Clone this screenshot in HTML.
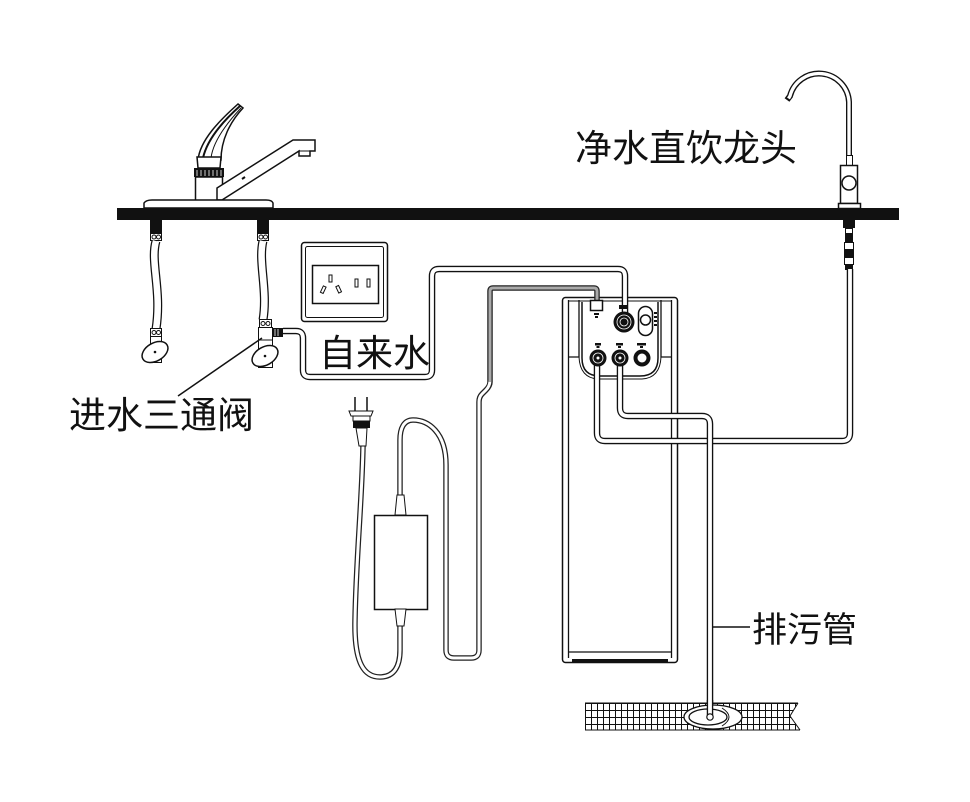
<!DOCTYPE html>
<html><head><meta charset="utf-8">
<style>
html,body{margin:0;padding:0;background:#fff;}
svg{display:block;}
text{font-family:"Liberation Sans","Noto Sans CJK SC",sans-serif;fill:#111;}
.o{fill:none;stroke:#111;stroke-width:1.5;}
.tb{fill:none;stroke:#111;stroke-width:6.5;}
.tw{fill:none;stroke:#fff;stroke-width:3.8;}
.cb{fill:none;stroke:#222;stroke-width:5.5;}
.cw{fill:none;stroke:#fff;stroke-width:3;}
.cg{fill:none;stroke:#aaa;stroke-width:3;}
</style></head><body>
<svg width="970" height="802" viewBox="0 0 970 802" xmlns="http://www.w3.org/2000/svg">
<defs>
<pattern id="brick" width="6" height="7" patternUnits="userSpaceOnUse" x="585" y="703">
<path d="M0 0.5H6M0.5 0V7" stroke="#111" stroke-width="1" fill="none"/>
</pattern>
</defs>
<rect width="970" height="802" fill="#fff"/>

<!-- Left faucet -->
<path d="M198 160 C200 140 220 120 238 104 L243 108 C230 122 221 140 221 160 Z" fill="#fff" stroke="#111" stroke-width="1.5"/>
<path d="M203 158 C207 140 222 122 240 106" fill="none" stroke="#111" stroke-width="2"/>
<path d="M211 158 C213 142 226 124 241 108" fill="none" stroke="#111" stroke-width="1"/>
<path d="M197 157 H221 L220 168 H198 Z" fill="#fff" stroke="#111" stroke-width="1.5"/>
<rect x="194" y="168" width="30" height="9" fill="#111"/>
<path d="M197 170 V176 M201 170 V176 M205 170 V176 M209 170 V176 M213 170 V176 M217 170 V176 M221 170 V176" stroke="#fff" stroke-width="0.8"/>
<rect x="195.5" y="177" width="27" height="24" fill="#fff" stroke="#111" stroke-width="1.5"/>
<path d="M217 188 L293 140 H315 V151 H310 V156 H299 V151 L222 200 H217 Z" fill="#fff" stroke="#111" stroke-width="1.5"/>
<path d="M298 151 H310" stroke="#111" stroke-width="1"/>
<path d="M242 179 L245 177" stroke="#111" stroke-width="2"/>
<path d="M144 208 V203 Q146 200 152 200 H266 Q272 200 273 203 V208 Z" fill="#fff" stroke="#111" stroke-width="1.5"/>

<!-- Counter -->
<rect x="117" y="208" width="782" height="12" fill="#111"/>

<!-- Left hose -->
<rect x="150" y="220" width="12" height="13" fill="#111"/>
<rect x="150.5" y="233.5" width="11" height="7" fill="#fff" stroke="#111"/>
<circle cx="154" cy="237" r="2" fill="none" stroke="#111"/><circle cx="158.5" cy="237" r="2" fill="none" stroke="#111"/>
<path d="M156 241 C150 262 162 290 156 329" fill="none" stroke="#111" stroke-width="9"/>
<path d="M156 241 C150 262 162 290 156 329" fill="none" stroke="#fff" stroke-width="6.5"/>
<rect x="150.5" y="328.5" width="11" height="8" fill="#fff" stroke="#111"/>
<circle cx="154" cy="332.5" r="2" fill="none" stroke="#111"/><circle cx="158.5" cy="332.5" r="2" fill="none" stroke="#111"/>
<rect x="150.5" y="336.5" width="11" height="26" fill="#fff" stroke="#111"/>
<ellipse cx="155" cy="352" rx="14" ry="9" transform="rotate(-30 155 352)" fill="#fff" stroke="#111" stroke-width="1.5"/>
<circle cx="155" cy="352" r="1.3" fill="#111"/>

<!-- Right hose / tee -->
<rect x="257" y="220" width="12" height="13" fill="#111"/>
<rect x="257.5" y="233.5" width="11" height="7" fill="#fff" stroke="#111"/>
<circle cx="261" cy="237" r="2" fill="none" stroke="#111"/><circle cx="265.5" cy="237" r="2" fill="none" stroke="#111"/>
<path d="M263 241 C258 262 268 290 263 320" fill="none" stroke="#111" stroke-width="9"/>
<path d="M263 241 C258 262 268 290 263 320" fill="none" stroke="#fff" stroke-width="6.5"/>
<rect x="259.5" y="319.5" width="12" height="8" fill="#fff" stroke="#111"/>
<circle cx="263" cy="323.5" r="2" fill="none" stroke="#111"/><circle cx="268" cy="323.5" r="2" fill="none" stroke="#111"/>
<rect x="258.5" y="327.5" width="14" height="40" fill="#fff" stroke="#111"/>
<path d="M258.5 340 H272.5" stroke="#111"/>
<rect x="272" y="328" width="11" height="9" fill="#111"/>
<path d="M275 329 V336 M278 329 V336" stroke="#fff" stroke-width="0.8"/>
<ellipse cx="265" cy="356" rx="14" ry="9" transform="rotate(-30 265 356)" fill="#fff" stroke="#111" stroke-width="1.5"/>
<circle cx="265" cy="356" r="1.3" fill="#111"/>

<!-- leader line -->
<path d="M178 396 L262 338" stroke="#111" stroke-width="1.5"/>

<!-- Outlet -->
<rect x="301.5" y="242.5" width="86" height="79" rx="3" fill="#fff" class="o"/>
<rect x="305.5" y="246.5" width="78" height="71" rx="2" fill="none" stroke="#111" stroke-width="1"/>
<rect x="312.5" y="265.5" width="66" height="38" fill="none" stroke="#111" stroke-width="1.5"/>
<rect x="329" y="275" width="3" height="7" fill="none" stroke="#111"/>
<rect x="322" y="286" width="3" height="7" transform="rotate(25 323 289)" fill="none" stroke="#111"/>
<rect x="337" y="286" width="3" height="7" transform="rotate(-25 338 289)" fill="none" stroke="#111"/>
<rect x="355" y="279" width="3" height="8" fill="none" stroke="#111"/>
<rect x="367" y="279" width="3" height="8" fill="none" stroke="#111"/>

<!-- Right faucet -->
<path d="M849 160 V102 A30 30 0 0 0 790 96 L787 100" fill="none" stroke="#111" stroke-width="6"/>
<path d="M849 160 V102 A30 30 0 0 0 790 96 L788.5 98.5" fill="none" stroke="#fff" stroke-width="3.3"/>
<rect x="846.5" y="155.5" width="6" height="10" fill="#fff" stroke="#111"/>
<rect x="840.5" y="165.5" width="17" height="38" fill="#fff" stroke="#111" stroke-width="1.5"/>
<circle cx="849" cy="183" r="7" fill="#fff" stroke="#111" stroke-width="1.5"/>
<rect x="838.5" y="203.5" width="22" height="5" fill="#fff" stroke="#111" stroke-width="1.5"/>
<rect x="843" y="220" width="12" height="8" fill="#111"/>
<rect x="845.5" y="228.5" width="7" height="5" fill="#fff" stroke="#111"/>
<rect x="845" y="234" width="8" height="8" fill="#111"/>
<rect x="844.5" y="242.5" width="9" height="7" fill="#fff" stroke="#111"/>
<rect x="844" y="250" width="10" height="7" fill="#111"/>
<rect x="844.5" y="257.5" width="9" height="7" fill="#fff" stroke="#111"/>
<rect x="845" y="264" width="8" height="6" fill="#111"/>

<!-- Device body -->
<rect x="562.5" y="297.5" width="115" height="365" rx="3" fill="#fff" stroke="#111" stroke-width="1.5"/>
<path d="M568.5 300 V658 M671.5 300 V658" stroke="#111" stroke-width="1.3"/>
<path d="M579 300 V357 H569 M661 300 V357 H671" fill="none" stroke="#111" stroke-width="1.3"/>
<path d="M582 302 V358 Q582 376 600 376 H640 Q658 376 658 358 V302" fill="none" stroke="#111" stroke-width="1.5"/>
<path d="M579 357 Q580 378 598 379 H642 Q660 378 661 357" fill="none" stroke="#111" stroke-width="1"/>
<path d="M568 301 H672" stroke="#111" stroke-width="1"/>
<path d="M569 652 H671" stroke="#111" stroke-width="1.3"/>
<rect x="572" y="659" width="96" height="3.5" fill="#111"/>

<!-- Water tubes -->
<path class="tb" d="M283 331 H296 Q303 331 303 338 V370 Q303 377 310 377 H425 Q432 377 432 370 V276 Q432 269 439 269 H618 Q625 269 625 276 V313"/>
<path class="tw" d="M283 331 H296 Q303 331 303 338 V370 Q303 377 310 377 H425 Q432 377 432 370 V276 Q432 269 439 269 H618 Q625 269 625 276 V313"/>
<path class="tb" d="M597 362 V433 Q597 441 605 441 H842 Q850 441 850 433 V269"/>
<path class="tw" d="M597 362 V433 Q597 441 605 441 H842 Q850 441 850 433 V269"/>
<path class="tb" d="M620 362 V408 Q620 416 628 416 H702 Q710 416 710 424 V716"/>
<path class="tw" d="M620 362 V408 Q620 416 628 416 H702 Q710 416 710 424 V716"/>
<path d="M713 627 H750" stroke="#111" stroke-width="1.5"/>

<!-- Power cable -->
<path class="cb" d="M597 302 V291 Q597 288 594 288 H493 Q490 288 490 291 V382 Q490 386 486 390 L482 394 Q479 397 479 402 V650 Q479 658 471 658 H454 Q446 658 446 650 V465 C446 432 428 420 413 420 C404 420 400 428 400 440 V497"/>
<path class="cw" d="M490 380 Q490 386 486 390 L482 394 Q479 397 479 402 V650 Q479 658 471 658 H454 Q446 658 446 650 V465 C446 432 428 420 413 420 C404 420 400 428 400 440 V497"/>
<path class="cg" d="M597 302 V291 Q597 288 594 288 H493 Q490 288 490 291 V382"/>
<path class="cb" d="M363 446 C362 500 356 560 355 620 C354 665 365 677 380 677 C395 677 400 665 400 650 V624"/>
<path class="cw" d="M363 446 C362 500 356 560 355 620 C354 665 365 677 380 677 C395 677 400 665 400 650 V624"/>

<!-- Adapter -->
<path d="M397 495 H404 L406 515 H395 Z" fill="#fff" stroke="#111" stroke-width="1"/>
<rect x="374.5" y="515.5" width="53" height="94" fill="#fff" stroke="#111" stroke-width="1.5"/>
<path d="M395 609 H406 L404 626 H397 Z" fill="#fff" stroke="#111" stroke-width="1"/>

<!-- Plug -->
<path d="M355 397 V411 M367 397 V411" stroke="#111" stroke-width="1.5"/>
<path d="M349 411 H373 L371 416 H351 Z" fill="#fff" stroke="#111"/>
<rect x="353" y="416" width="17" height="5" fill="#fff" stroke="#111"/>
<rect x="353" y="421" width="17" height="7" fill="#111"/>
<path d="M356 428 H367 L366 446 H359 Z" fill="#fff" stroke="#111"/>

<!-- Device panel controls -->
<rect x="590.5" y="300.5" width="12" height="10" fill="#fff" stroke="#111" stroke-width="1.5"/>
<rect x="594" y="313" width="5" height="2" fill="#111"/><rect x="595" y="316" width="3" height="2" fill="#111"/>
<rect x="619" y="305" width="9" height="4" fill="#111"/>
<circle cx="624" cy="322" r="10.5" fill="#111"/>
<circle cx="624" cy="322" r="7" fill="none" stroke="#fff" stroke-width="0.8"/>
<circle cx="624" cy="322" r="4" fill="none" stroke="#fff" stroke-width="0.8"/>
<rect x="638.5" y="306.5" width="14" height="29" rx="7" fill="#fff" stroke="#111" stroke-width="1.5"/>
<circle cx="645.5" cy="320" r="5" fill="#fff" stroke="#111" stroke-width="1.5"/>
<rect x="654" y="312" width="3" height="2" fill="#111"/><rect x="654" y="316" width="3" height="2" fill="#111"/><rect x="654" y="320" width="3" height="2" fill="#111"/><rect x="654" y="324" width="3" height="2" fill="#111"/>
<rect x="595" y="343" width="6" height="2.5" fill="#111"/><rect x="596.5" y="346" width="3" height="2" fill="#111"/>
<rect x="616" y="343" width="7" height="2.5" fill="#111"/><rect x="618" y="346" width="3" height="2" fill="#111"/>
<rect x="637" y="343" width="9" height="2.5" fill="#111"/><rect x="640" y="346" width="3" height="2" fill="#111"/>
<circle cx="598" cy="358" r="8.5" fill="#111"/>
<circle cx="598" cy="358" r="5" fill="none" stroke="#fff" stroke-width="0.8"/>
<circle cx="598" cy="358" r="1.5" fill="#fff"/>
<circle cx="620" cy="358" r="8.5" fill="#111"/>
<circle cx="620" cy="358" r="5" fill="none" stroke="#fff" stroke-width="0.8"/>
<circle cx="620" cy="358" r="1.5" fill="#fff"/>
<circle cx="642" cy="358" r="8.5" fill="#111"/>
<circle cx="642" cy="358" r="4.5" fill="#fff"/>

<!-- Drain floor -->
<rect x="585" y="703" width="213" height="27" fill="url(#brick)"/>
<path d="M585 703 H798 M585 730 H800" stroke="#111" stroke-width="1"/>
<path d="M798 703 L790 716 L800 730" fill="#fff" stroke="#111" stroke-width="1"/>
<ellipse cx="713" cy="717" rx="29" ry="12" fill="#fff" stroke="#111" stroke-width="1.3"/>
<ellipse cx="708" cy="717" rx="19" ry="8" fill="none" stroke="#111" stroke-width="1.3"/>
<path d="M722 708 Q736 717 722 726" fill="none" stroke="#111" stroke-width="1"/>
<path class="tb" d="M710 700 V716"/>
<path class="tw" d="M710 700 V716"/>
<circle cx="710" cy="717" r="3.2" fill="#fff" stroke="#111" stroke-width="1.2"/>

<!-- Labels -->
<text x="575" y="161" font-size="37">净水直饮龙头</text>
<text x="319" y="366" font-size="37">自来水</text>
<text x="69" y="428" font-size="37">进水三通阀</text>
<text x="752" y="642" font-size="35">排污管</text>
</svg>
</body></html>
